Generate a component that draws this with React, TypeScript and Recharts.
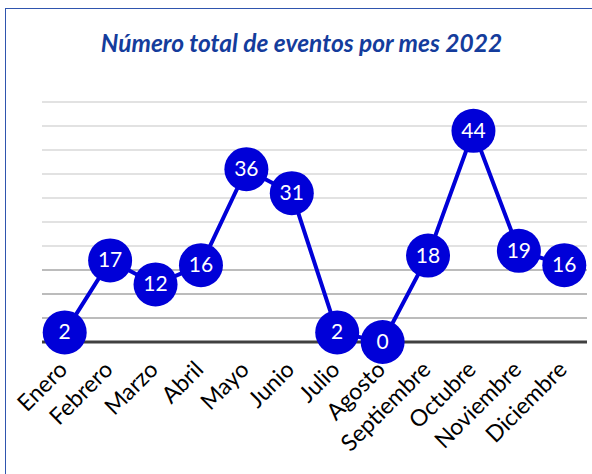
import React from 'react';
import { LineChart, Line, XAxis, YAxis, ReferenceLine } from 'recharts';

const months = ['Enero', 'Febrero', 'Marzo', 'Abril', 'Mayo', 'Junio', 'Julio', 'Agosto', 'Septiembre', 'Octubre', 'Noviembre', 'Diciembre'];
const eventos = [2, 17, 12, 16, 36, 31, 2, 0, 18, 44, 19, 16];
const yTicks = [0, 5, 10, 15, 20, 25, 30, 35, 40, 45, 50];
const darkGridValues = [5, 10, 15];
const title = 'Número total de eventos por mes 2022';

const data = months.map((m, i) => ({ month: m, value: eventos[i] }));

const BLUE = '#0000d8';

const Dot = (props: any) => {
  const { cx, cy, value, index } = props;
  if (cx == null || cy == null) return null;
  return (
    <g key={`dot-${index}`}>
      <circle cx={cx} cy={cy} r={22} fill={BLUE} />
      <text
        x={cx}
        y={cy}
        dy={7}
        textAnchor="middle"
        fill="#ffffff"
        fontFamily="Lato, sans-serif"
        fontSize={21}
      >
        {value}
      </text>
    </g>
  );
};

const Tick = (props: any) => {
  const { x, y, payload } = props;
  const ax = x + 4;
  const ay = y + 21;
  return (
    <text
      x={ax}
      y={ay}
      transform={`rotate(-45 ${ax} ${ay})`}
      textAnchor="end"
      fill="#000000"
      fontFamily="Lato, sans-serif"
      fontSize={23}
    >
      {payload.value}
    </text>
  );
};

export default function App() {
  return (
    <div style={{ position: 'absolute', left: 0, top: 0, width: 592, height: 474, overflow: 'hidden', background: '#ffffff' }}>
      <div
        style={{
          position: 'absolute',
          left: 5,
          top: 8,
          width: 640,
          height: 520,
          border: '1.5px solid #2f55ae',
          boxSizing: 'border-box',
        }}
      />
      <div
        style={{
          position: 'absolute',
          left: 0,
          top: 27,
          width: 603,
          textAlign: 'center',
          fontFamily: 'Lato, sans-serif',
          fontWeight: 700,
          fontStyle: 'italic',
          fontSize: 24.5,
          lineHeight: '32px',
          color: '#143c9c',
        }}
      >
        {title}
      </div>
      <div style={{ position: 'absolute', left: 0, top: 0 }}>
        <LineChart width={592} height={474} data={data} margin={{ top: 102, right: 5, bottom: 32, left: 42 }}>
          <XAxis
            dataKey="month"
            scale="band"
            interval={0}
            height={100}
            tickLine={false}
            axisLine={false}
            tick={<Tick />}
          />
          <YAxis hide domain={[0, 50]} ticks={yTicks} />
          {yTicks.filter((t) => t > 0).map((t) => (
            <ReferenceLine
              key={t}
              y={t}
              stroke={darkGridValues.includes(t) ? '#a6a6a6' : '#d9d9d9'}
              strokeWidth={1.5}
            />
          ))}
          <ReferenceLine y={0} stroke="#404040" strokeWidth={3} />
          <Line
            type="linear"
            dataKey="value"
            stroke={BLUE}
            strokeWidth={4}
            dot={<Dot />}
            activeDot={false}
            isAnimationActive={false}
          />
        </LineChart>
      </div>
    </div>
  );
}
